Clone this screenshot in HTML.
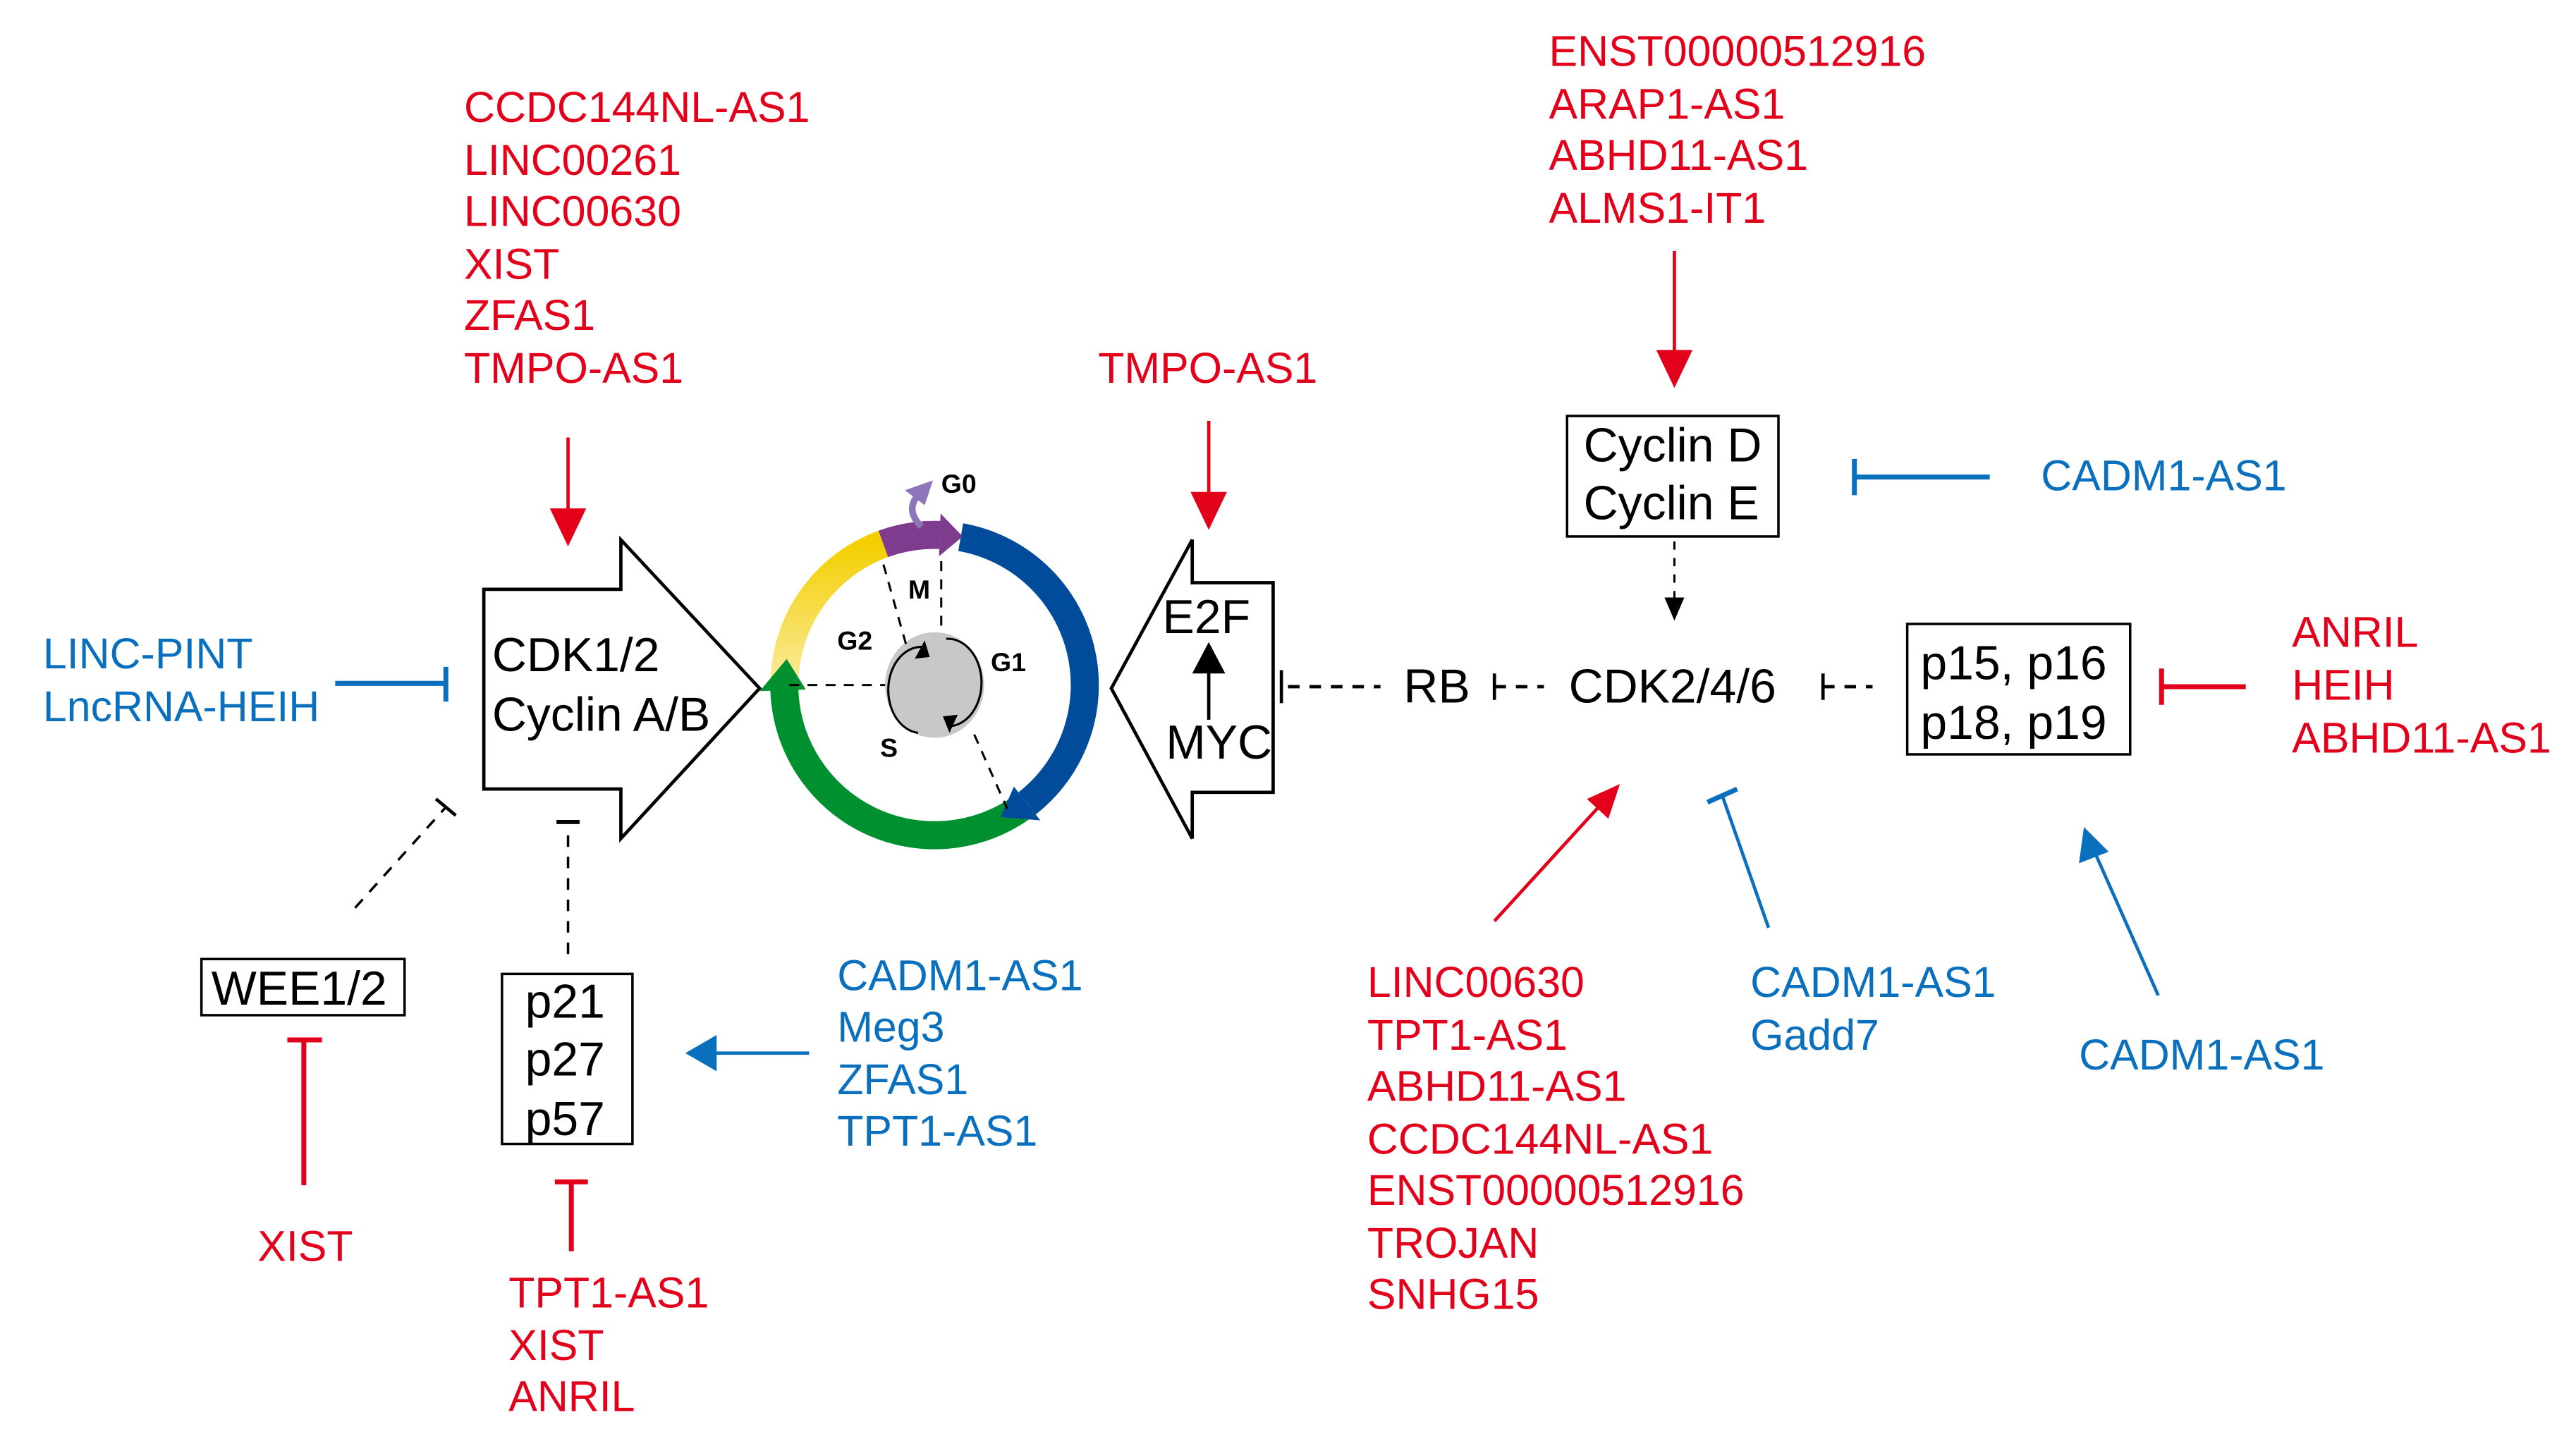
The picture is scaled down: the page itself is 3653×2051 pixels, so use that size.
<!DOCTYPE html>
<html><head><meta charset="utf-8"><style>
html,body{margin:0;padding:0;background:#fff;}
svg{display:block}
text{font-family:"Liberation Sans",Arial,sans-serif;dominant-baseline:central}
.r{fill:#e2001a;font-size:26px}
.b{fill:#0a70be;font-size:26px}
.k{fill:#000;font-size:29px}
.s{fill:#000;font-size:16px;font-weight:bold}
</style></head><body>
<svg width="3653" height="2051" viewBox="0 0 1560 876" preserveAspectRatio="none" xmlns="http://www.w3.org/2000/svg">
<defs>
<linearGradient id="yg" x1="0" y1="1" x2="0" y2="0">
<stop offset="0" stop-color="#fbeb9e"/><stop offset="1" stop-color="#f3cf00"/>
</linearGradient>
</defs>
<text class="r" x="281" y="65">CCDC144NL-AS1</text>
<text class="r" x="281" y="97">LINC00261</text>
<text class="r" x="281" y="128">LINC00630</text>
<text class="r" x="281" y="160">XIST</text>
<text class="r" x="281" y="191">ZFAS1</text>
<text class="r" x="281" y="223">TMPO-AS1</text>
<line x1="344" y1="265" x2="344" y2="310" stroke="#e2001a" stroke-width="2"/>
<polygon points="333,308 355,308 344,331" fill="#e2001a"/>

<polygon points="293,357 376,357 376,327 460,417 376,508 376,478 293,478" fill="#fff" stroke="#000" stroke-width="2"/>
<text class="k" x="298" y="397">CDK1/2</text>
<text class="k" x="298" y="433">Cyclin A/B</text>

<text class="b" x="26" y="396">LINC-PINT</text>
<text class="b" x="26" y="428">LncRNA-HEIH</text>
<line x1="203" y1="414" x2="270" y2="414" stroke="#0a70be" stroke-width="3"/>
<line x1="270" y1="404" x2="270" y2="425" stroke="#0a70be" stroke-width="3"/>

<path d="M475,415 A91,91 0 0 1 534.9,329.5" fill="none" stroke="url(#yg)" stroke-width="17"/>
<path d="M618.2,489.5 A91,91 0 0 1 475,418" fill="none" stroke="#00902f" stroke-width="17"/>
<polygon points="488,417.7 460.1,418.7 476.4,399.2" fill="#00902f"/>
<path d="M581.8,325.4 A91,91 0 0 1 622,486.7" fill="none" stroke="#004c9a" stroke-width="17"/>
<polygon points="614,476.5 630,497 606,495" fill="#004c9a"/>
<path d="M534.9,329.5 A91,91 0 0 1 569.2,324.1" fill="none" stroke="#7f3b8e" stroke-width="17"/>
<polygon points="568.7,337 569.6,311.1 583,325" fill="#7f3b8e"/>
<path d="M558,319 Q548,309 556,300" fill="none" stroke="#8c75b8" stroke-width="4"/>
<polygon points="548,297 565,291 560,306" fill="#8c75b8"/>
<text class="s" x="570" y="293">G0</text>
<ellipse cx="566" cy="415" rx="30" ry="32" fill="#c8c8c8"/>
<path d="M556,444 A20,26 0 0 1 560,392" fill="none" stroke="#000" stroke-width="1.3"/>
<polygon points="560,388 554,399 563,398" fill="#000"/>
<path d="M573,387 A20,26 0 0 1 575,440" fill="none" stroke="#000" stroke-width="1.3"/>
<polygon points="575,444 580,433 571,434" fill="#000"/>
<g stroke="#000" stroke-width="1.3" stroke-dasharray="6,5" fill="none">
<line x1="535" y1="342" x2="550" y2="395"/>
<line x1="570" y1="340" x2="570" y2="382"/>
<line x1="478" y1="415" x2="536" y2="415"/>
<line x1="590" y1="445" x2="610" y2="490"/>
</g>
<text class="s" x="550" y="357">M</text>
<text class="s" x="507" y="388">G2</text>
<text class="s" x="600" y="401">G1</text>
<text class="s" x="533" y="453">S</text>

<polygon points="771,353 722,353 722,327 673,417 722,508 722,480 771,480" fill="#fff" stroke="#000" stroke-width="2"/>
<text class="k" x="704" y="374">E2F</text>
<text class="k" x="706" y="450">MYC</text>
<line x1="732" y1="436" x2="732" y2="405" stroke="#000" stroke-width="2"/>
<polygon points="722,408 742,408 732,389" fill="#000"/>
<text class="r" x="665" y="223">TMPO-AS1</text>
<line x1="732" y1="255" x2="732" y2="300" stroke="#e2001a" stroke-width="2"/>
<polygon points="721,298 743,298 732,321" fill="#e2001a"/>

<line x1="776" y1="406" x2="776" y2="426" stroke="#000" stroke-width="2"/>
<line x1="780" y1="416" x2="836" y2="416" stroke="#000" stroke-width="2" stroke-dasharray="7,6"/>
<text class="k" x="850" y="416">RB</text>
<line x1="905" y1="408" x2="905" y2="424" stroke="#000" stroke-width="2"/>
<line x1="905" y1="416" x2="935" y2="416" stroke="#000" stroke-width="2" stroke-dasharray="7,6"/>
<text class="k" x="950" y="416">CDK2/4/6</text>
<line x1="1104" y1="408" x2="1104" y2="424" stroke="#000" stroke-width="2"/>
<line x1="1104" y1="416" x2="1134" y2="416" stroke="#000" stroke-width="2" stroke-dasharray="7,6"/>

<rect x="1155" y="378" width="135" height="79" fill="#fff" stroke="#000" stroke-width="1.5"/>
<text class="k" x="1163" y="402">p15, p16</text>
<text class="k" x="1163" y="438">p18, p19</text>
<text class="r" x="1388" y="383">ANRIL</text>
<text class="r" x="1388" y="415">HEIH</text>
<text class="r" x="1388" y="447">ABHD11-AS1</text>
<line x1="1308" y1="416" x2="1360" y2="416" stroke="#e2001a" stroke-width="3"/>
<line x1="1309" y1="405" x2="1309" y2="427" stroke="#e2001a" stroke-width="3"/>

<rect x="949" y="252" width="128" height="73" fill="#fff" stroke="#000" stroke-width="1.5"/>
<text class="k" x="959" y="270">Cyclin D</text>
<text class="k" x="959" y="305">Cyclin E</text>
<line x1="1014" y1="328" x2="1014" y2="364" stroke="#000" stroke-width="1.3" stroke-dasharray="5,5"/>
<polygon points="1008,362 1020,362 1014,376" fill="#000"/>
<text class="r" x="938" y="31">ENST00000512916</text>
<text class="r" x="938" y="63">ARAP1-AS1</text>
<text class="r" x="938" y="94">ABHD11-AS1</text>
<text class="r" x="938" y="126">ALMS1-IT1</text>
<line x1="1014" y1="152" x2="1014" y2="214" stroke="#e2001a" stroke-width="2"/>
<polygon points="1003,212 1025,212 1014,235" fill="#e2001a"/>
<text class="b" x="1236" y="288">CADM1-AS1</text>
<line x1="1123" y1="289" x2="1205" y2="289" stroke="#0a70be" stroke-width="3"/>
<line x1="1123" y1="278" x2="1123" y2="300" stroke="#0a70be" stroke-width="3"/>

<line x1="905" y1="558" x2="968" y2="489" stroke="#e2001a" stroke-width="2"/>
<polygon points="981,475 961,484 974,496" fill="#e2001a"/>
<line x1="1071" y1="562" x2="1043" y2="482" stroke="#0a70be" stroke-width="2"/>
<line x1="1034" y1="486" x2="1052" y2="478" stroke="#0a70be" stroke-width="3"/>
<line x1="1307" y1="603" x2="1268" y2="515" stroke="#0a70be" stroke-width="2"/>
<polygon points="1262,501 1259,523 1277,516" fill="#0a70be"/>
<text class="r" x="828" y="595">LINC00630</text>
<text class="r" x="828" y="627">TPT1-AS1</text>
<text class="r" x="828" y="658">ABHD11-AS1</text>
<text class="r" x="828" y="690">CCDC144NL-AS1</text>
<text class="r" x="828" y="721">ENST00000512916</text>
<text class="r" x="828" y="753">TROJAN</text>
<text class="r" x="828" y="784">SNHG15</text>
<text class="b" x="1060" y="595">CADM1-AS1</text>
<text class="b" x="1060" y="627">Gadd7</text>
<text class="b" x="1259" y="639">CADM1-AS1</text>

<rect x="122" y="581" width="123" height="34" fill="#fff" stroke="#000" stroke-width="1.5"/>
<text class="k" x="128" y="599">WEE1/2</text>
<line x1="215" y1="550" x2="270" y2="489" stroke="#000" stroke-width="1.5" stroke-dasharray="7,6"/>
<line x1="264" y1="484" x2="276" y2="494" stroke="#000" stroke-width="2"/>
<line x1="184" y1="718" x2="184" y2="630" stroke="#e2001a" stroke-width="3"/>
<line x1="174" y1="630" x2="195" y2="630" stroke="#e2001a" stroke-width="3"/>
<text class="r" x="156" y="755">XIST</text>

<rect x="304" y="590" width="79" height="103" fill="#fff" stroke="#000" stroke-width="1.5"/>
<text class="k" x="318" y="607">p21</text>
<text class="k" x="318" y="642">p27</text>
<text class="k" x="318" y="678">p57</text>
<line x1="344" y1="578" x2="344" y2="500" stroke="#000" stroke-width="1.5" stroke-dasharray="7,6"/>
<line x1="337" y1="498" x2="351" y2="498" stroke="#000" stroke-width="2.5"/>
<line x1="346" y1="758" x2="346" y2="716" stroke="#e2001a" stroke-width="3"/>
<line x1="336" y1="716" x2="356" y2="716" stroke="#e2001a" stroke-width="3"/>
<text class="r" x="308" y="783">TPT1-AS1</text>
<text class="r" x="308" y="815">XIST</text>
<text class="r" x="308" y="846">ANRIL</text>
<line x1="490" y1="638" x2="432" y2="638" stroke="#0a70be" stroke-width="2"/>
<polygon points="415,638 434,627 434,649" fill="#0a70be"/>
<text class="b" x="507" y="591">CADM1-AS1</text>
<text class="b" x="507" y="622">Meg3</text>
<text class="b" x="507" y="654">ZFAS1</text>
<text class="b" x="507" y="685">TPT1-AS1</text>
</svg>
</body></html>
